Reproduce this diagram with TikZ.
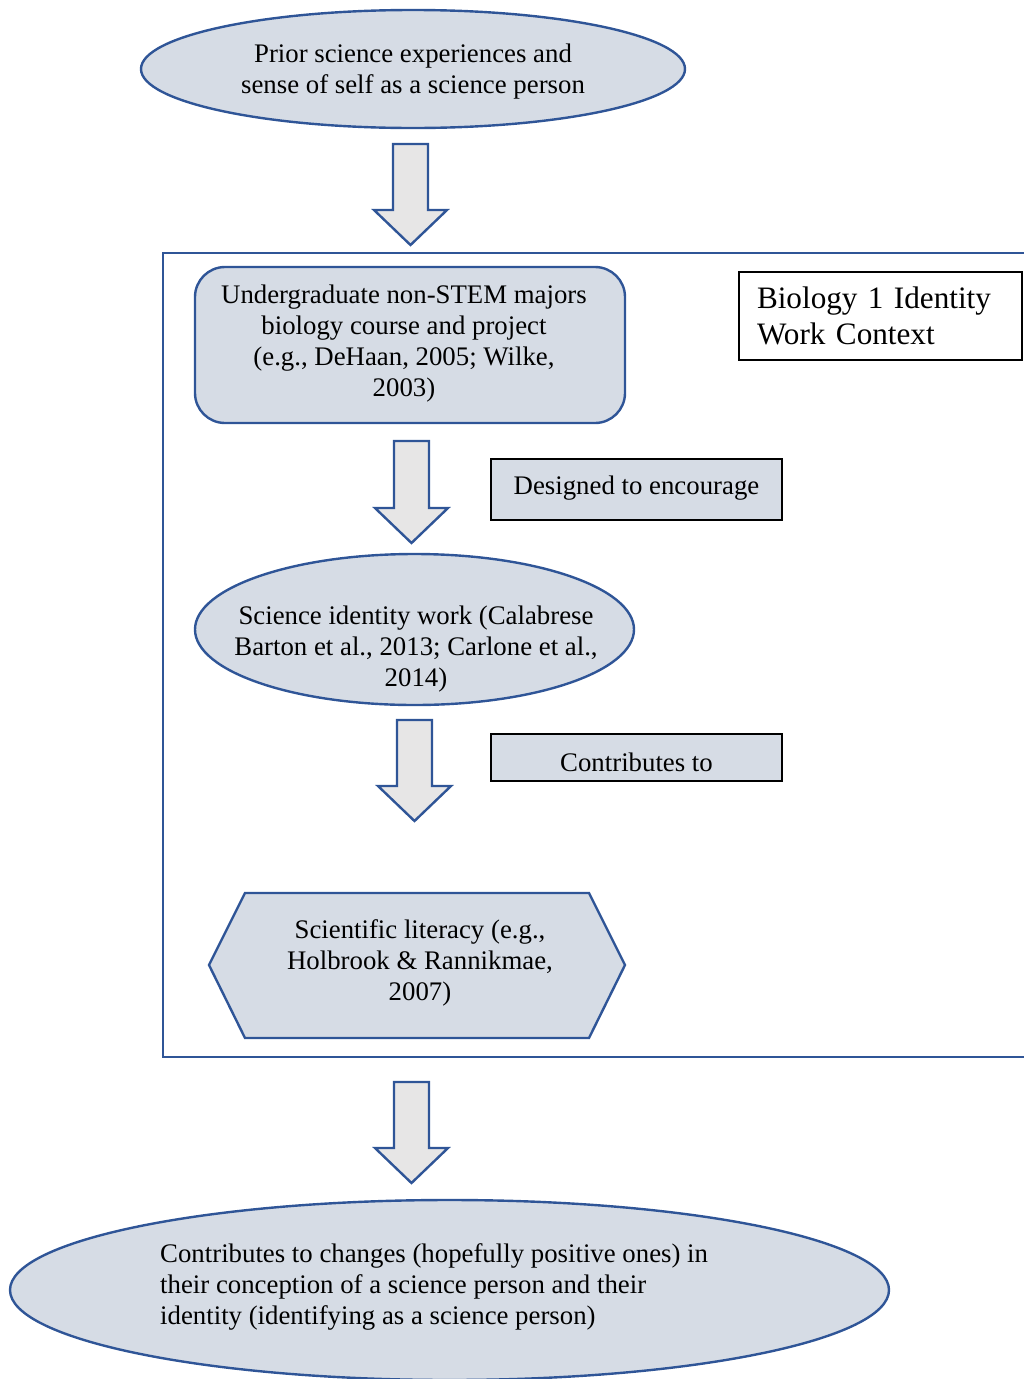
\documentclass[tikz,border=0pt]{standalone}
\usepackage{fontspec}
\setmainfont{Liberation Serif}
\usetikzlibrary{shapes.geometric}
\definecolor{shapefill}{HTML}{D6DCE5}
\definecolor{shapeline}{HTML}{2F5597}
\definecolor{arrowfill}{HTML}{E7E6E6}

% block arrow pointing down: #1 centre x, #2 top, #3 end of shaft, #4 tip
\newcommand\blockdown[4]{%
  \draw[blockarrow] (#1-17.5,#2) -- (#1+17.5,#2) -- (#1+17.5,#3) -- (#1+36.5,#3)
    -- (#1,#4) -- (#1-36.5,#3) -- (#1-17.5,#3) -- cycle;}

\begin{document}
\begin{tikzpicture}[x=1pt,y=-1pt,
  body/.style={font=\fontsize{26.8}{31}\selectfont},
  shapebox/.style={draw=shapeline, fill=shapefill, line width=2.4pt},
  oval/.style={shapebox, ellipse, inner sep=0pt},
  tagbox/.style={draw=black, fill=shapefill, line width=1.2pt, inner sep=0pt, body},
  blockarrow/.style={draw=shapeline, fill=arrowfill, line width=2.4pt, line join=miter},
  frame/.style={draw=shapeline, line width=2pt}]
\useasboundingbox (0,0) rectangle (1024,1379);

% starting point
\node[oval, minimum width=544pt, minimum height=118pt] (prior) at (413,69) {};
\node[body, align=center] (priortext) at (413,72)
  {Prior science experiences and\\sense of self as a science person};

\blockdown{410.5}{144}{210}{245}

% course context frame
\draw[frame] (163,253) rectangle (1030,1057);

\node[shapebox, rounded corners=30pt, minimum width=430pt, minimum height=156pt,
  inner sep=0pt] (course) at (410,345) {};
\node[body, align=center] (coursetext) at (404,344)
  {Undergraduate non-STEM majors\\biology course and project\\(e.g., DeHaan, 2005; Wilke,\\2003)};

\node[draw=black, fill=white, line width=1.2pt, minimum width=283pt, minimum height=88pt,
  text width=247pt, align=left, inner xsep=18pt, inner ysep=0pt,
  font=\fontsize{31.2}{36}\selectfont] (context) at (880.5,316) {Biology 1 Identity\\Work Context};

\blockdown{411.5}{441}{508}{543}

\node[tagbox, minimum width=291pt, minimum height=61pt] (encourage) at (636.5,489.5) {};
\node[body] (encouragetext) at (636.5,488) {Designed to encourage};

\node[oval, minimum width=439pt, minimum height=151pt] (idwork) at (414.5,629.5) {};
\node[body, align=center] (idworktext) at (416,649)
  {Science identity work (Calabrese\\Barton et al., 2013; Carlone et al.,\\2014)};

\blockdown{414.5}{720}{786}{821}

\node[tagbox, minimum width=291pt, minimum height=47pt] (contrib) at (636.5,757.5) {};
\node[body] (contribtext) at (636.5,762) {Contributes to};

% hexagon
\coordinate (h1) at (245,893);
\coordinate (h2) at (589,893);
\coordinate (h3) at (625,965);
\coordinate (h4) at (589,1038);
\coordinate (h5) at (245,1038);
\coordinate (h6) at (209,965);
\draw[shapebox, line join=miter] (h1) -- (h2) -- (h3) -- (h4) -- (h5) -- (h6) -- cycle;
\node[body, align=center] (literacy) at (420,963)
  {Scientific literacy (e.g.,\\Holbrook \& Rannikmae,\\2007)};

\blockdown{411.5}{1082}{1148}{1183}

\node[oval, minimum width=879pt, minimum height=180pt] (outcome) at (449.5,1290) {};
\node[body, align=left, anchor=west, inner xsep=0pt] (outcometext) at (160,1287)
  {Contributes to changes (hopefully positive ones) in\\their conception of a science person and their\\identity (identifying as a science person)};
\end{tikzpicture}
\end{document}
